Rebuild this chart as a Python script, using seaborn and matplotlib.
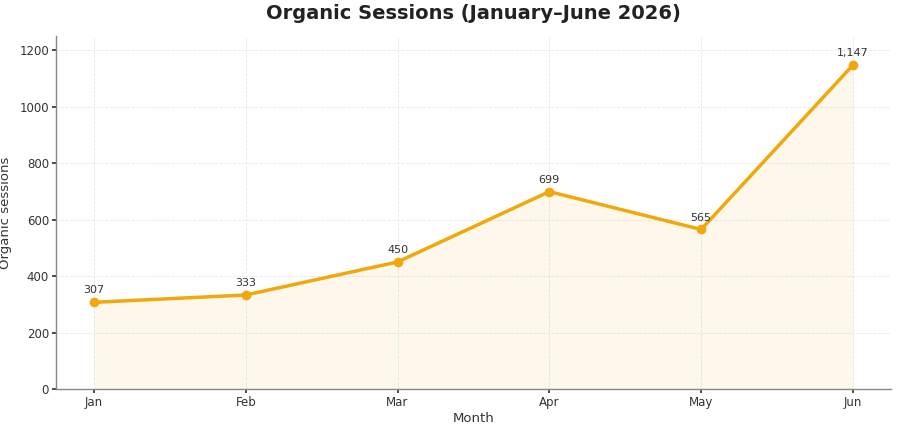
import matplotlib
matplotlib.use("Agg")
import matplotlib.pyplot as plt
import seaborn as sns
import pandas as pd

months = ["Jan", "Feb", "Mar", "Apr", "May", "Jun"]
sessions = [307, 333, 450, 699, 565, 1147]

sns.set_theme(style="white")
plt.rcParams['font.family'] = ['DejaVu Sans']

df = pd.DataFrame({"Month": months, "Sessions": sessions, "x": range(len(months))})

color = "#F0A80C"
fig = plt.figure(figsize=(8.98, 4.24), dpi=100)
ax = fig.add_axes([0.0624, 0.0825, 0.9296, 0.8325])

ax.fill_between(df["x"], 0, df["Sessions"], color=color, alpha=0.08, linewidth=0)
sns.lineplot(data=df, x="x", y="Sessions", ax=ax, color=color, linewidth=2.5,
             marker="o", markersize=7, markeredgewidth=0)

for xi, v in zip(df["x"], df["Sessions"]):
    ax.annotate(f"{v:,}", (xi, v), textcoords="offset points", xytext=(0, 5),
                ha="center", va="bottom", fontsize=8, color="#333333")

ax.set_xticks(list(df["x"]))
ax.set_xticklabels(months)
ax.set_xlim(-0.25, 5.25)
ax.set_ylim(0, 1250)
ax.set_yticks([0, 200, 400, 600, 800, 1000, 1200])
ax.grid(True, linestyle="--", color="#dddddd", linewidth=0.6, alpha=0.7)
for s in ["top", "right"]:
    ax.spines[s].set_visible(False)
for s in ["left", "bottom"]:
    ax.spines[s].set_color("#888888")
    ax.spines[s].set_linewidth(1.0)
ax.tick_params(axis="both", labelsize=8.5, colors="#333333", length=3, pad=2,
               left=True, bottom=True)
ax.set_xlabel("Month", fontsize=9.5, color="#333333", labelpad=2)
ax.set_ylabel("Organic sessions", fontsize=9.5, color="#333333", labelpad=5)
ax.set_title("Organic Sessions (January–June 2026)", fontsize=14, fontweight="bold",
             color="#222222", pad=12)

fig.savefig("out.png", dpi=100)
